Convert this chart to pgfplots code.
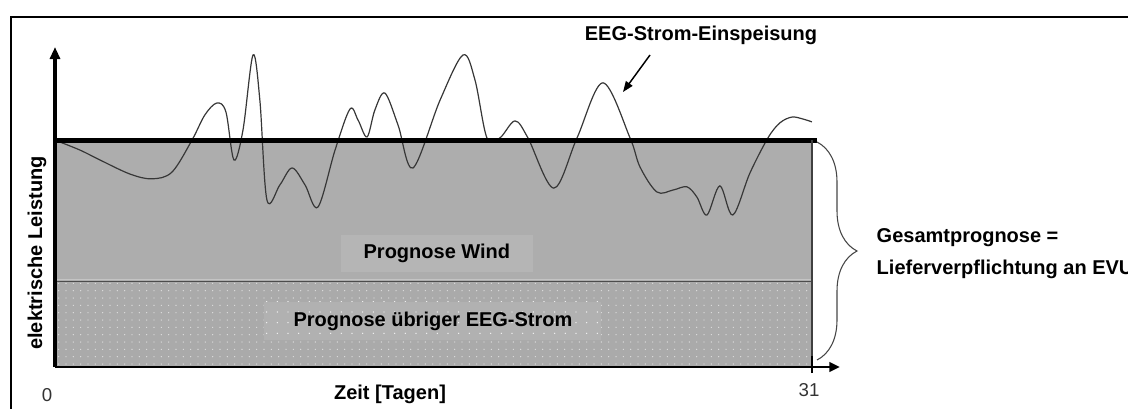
\documentclass[border=0pt]{standalone}
\usepackage{fontspec}
\setmainfont{Liberation Sans}
\usepackage{pgfplots}
\pgfplotsset{compat=1.18}
\usetikzlibrary{arrows.meta,decorations.pathreplacing,patterns.meta}
\definecolor{windfill}{RGB}{173,173,173}
\definecolor{windbox}{RGB}{181,181,181}
\definecolor{restbase}{RGB}{170,170,170}
\definecolor{restdots}{RGB}{222,222,222}
\definecolor{restbox}{RGB}{177,177,177}
\definecolor{kurve}{RGB}{55,55,55}
\definecolor{klammer}{RGB}{70,70,70}
\definecolor{kante}{RGB}{196,196,196}
\newcommand{\lbl}{\bfseries\fontsize{15}{18}\selectfont}

\begin{document}
\begin{tikzpicture}
  \useasboundingbox (0,0) rectangle (846pt,306pt);
  \clip (0,0) rectangle (846pt,306pt);
  % outer frame (cut off at right and bottom)
  \begin{scope}[x=0.75pt,y=0.75pt]
    \draw[line width=1.5pt] (11,-20) -- (11,391) -- (1160,391);
  \end{scope}

  \begin{axis}[at={(41.25pt,30.75pt)}, anchor=south west,
      scale only axis, width=588.75pt, height=240pt,
      xmin=0, xmax=32.15, ymin=0, ymax=100,
      hide axis, clip=false]
    % Gesamtprognose (grey area)
    \addplot[draw=none, fill=windfill] coordinates {(0,70.9) (31,70.9)} \closedcycle;
    % Prognose uebriger EEG-Strom (dotted)
    \addplot[draw=none, fill=restbase] coordinates {(0,26.6) (31,26.6)} \closedcycle;
    \addplot[draw=none, pattern={Dots[distance=5.5pt,radius=0.5pt]}, pattern color=restdots]
      coordinates {(0,26.6) (31,26.6)} \closedcycle;
    \addplot[kante, line width=0.7pt] coordinates {(0,27.3) (31,27.3)};
    \addplot[black!70, line width=0.9pt] coordinates {(0,26.6) (31,26.6)};

    \node[fill=windbox, minimum width=144pt, minimum height=27.75pt, font=\lbl]
      at (axis cs:15.64,35.5) {Prognose Wind};
    \node[fill=restbox, minimum width=252.75pt, minimum height=28.5pt, font=\lbl,
      postaction={pattern={Dots[distance=8pt,radius=0.55pt]}, pattern color=white!92!gray}]
      at (axis cs:15.48,14.4) {};
    \node[font=\lbl] at (axis cs:15.48,14.4) {Prognose übriger EEG-Strom};

    % EEG-Strom-Einspeisung
    \addplot[kurve, line width=0.9pt, smooth, tension=0.55] coordinates {
      (0,70.9) (1.02,67.8) (1.84,64.7) (3.07,60.3) (3.97,58.8) (4.79,60.9)
      (5.61,70.9) (6.14,78.8) (6.63,82.5) (7.00,79.7) (7.33,64.7) (7.70,74.1)
      (8.11,97.5) (8.39,83.4) (8.68,52.2) (9.21,56.9) (9.71,62.2) (10.24,56.9)
      (10.77,50.0) (11.47,67.8) (12.08,80.6) (12.41,77.2) (12.78,71.9) (13.10,80.3)
      (13.51,85.6) (14.05,75.6) (14.66,62.2) (15.77,83.4) (16.71,97.5) (17.20,89.7)
      (17.69,71.6) (18.22,71.6) (18.84,76.9) (19.37,71.6) (20.43,55.9) (21.38,71.6)
      (22.44,88.8) (23.55,71.6) (23.96,62.5) (24.65,54.7) (25.31,55.3) (25.88,56.3)
      (26.29,53.1) (26.70,47.5) (27.23,56.6) (27.76,47.5) (28.46,60.6) (29.20,71.6)
      (29.69,76.3) (30.18,78.1) (30.63,77.5) (31.00,76.6)
    };

    % Lieferverpflichtung line and box edge
    \addplot[black, line width=3.75pt] coordinates {(-0.05,70.9) (31.2,70.9)};
    \addplot[black!75, line width=0.9pt] coordinates {(31,0) (31,70.9)};

    % axes
    \addplot[black, line width=1.3pt] coordinates {(0,0) (31,0)};
    \addplot[black, line width=2pt, -{Triangle[width=7pt,length=8pt]}]
      coordinates {(31,0) (32.15,0)};
    \addplot[black, line width=1.5pt] coordinates {(31,-1.9) (31,3.4)};
    \addplot[black, line width=2.3pt, -{Triangle[width=7.5pt,length=9pt]}]
      coordinates {(0,0) (0,100)};
  \end{axis}

  \begin{scope}[x=0.75pt,y=0.75pt]
    \node[font=\lbl] at (701,373) {EEG-Strom-Einspeisung};
    \draw[black, line width=1.1pt, -{Triangle[width=6pt,length=8pt]}] (650,353) -- (623,316);
    \node[font=\lbl, rotate=90] at (37,155) {elektrische Leistung};
    \node[font=\lbl] at (390,14) {Zeit [Tagen]};
    \node[font=\fontsize{14}{16}\selectfont, text=black!80] at (47,13) {0};
    \node[font=\fontsize{14}{16}\selectfont, text=black!80] at (809,18) {31};
    \draw[klammer, line width=0.8pt, decorate,
      decoration={brace, amplitude=30pt}] (817,266) -- (817,48);
    \node[font=\lbl, anchor=west] at (872,170) {Gesamtprognose =};
    \node[font=\lbl, anchor=west] at (872,139) {Lieferverpflichtung an EVU};
  \end{scope}
\end{tikzpicture}
\end{document}
